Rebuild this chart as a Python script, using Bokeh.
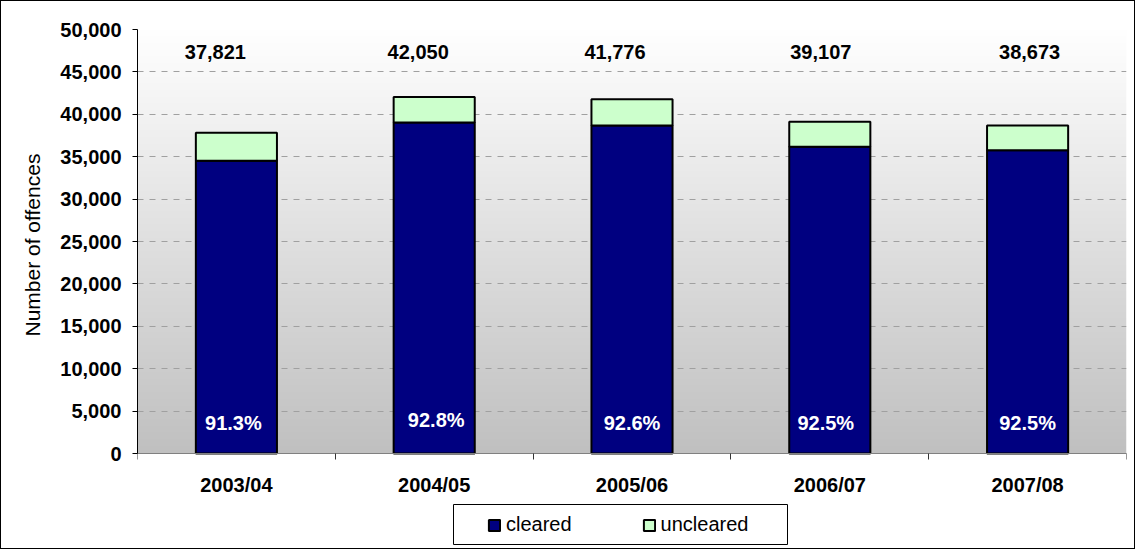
import numpy as np
from bokeh.plotting import figure
from bokeh.models import (ColumnDataSource, Range1d, FixedTicker, NumeralTickFormatter,
                          Legend, LegendItem, BoxAnnotation, Title)
from bokeh.core.properties import value
from bokeh.embed import file_html
from bokeh.resources import INLINE

# ---- data ----
categories = ["2003/04", "2004/05", "2005/06", "2006/07", "2007/08"]
cleared = [34531, 39022, 38685, 36174, 35773]
uncleared = [3290, 3028, 3091, 2933, 2900]
y_ticks = [0, 5000, 10000, 15000, 20000, 25000, 30000, 35000, 40000, 45000, 50000]

# ---- label nudges (px), styling only ----
total_dx = [-21, -16, -17, -9, 2]
pct_dx = [-3, 2, 0, -4, 0]
pct_dy = [0, -3, 0, 0, 0]

FONT = "Liberation Sans"

# ---- layout (px) ----
FRAME_L, FRAME_T, FRAME_W = 136, 28, 989
AXIS_H = 424          # height of the 0..50,000 part of the frame
BELOW_H = 95          # space below the value 0 (axis labels + legend)
N = len(categories)
YMAX = y_ticks[-1]
YMIN = -YMAX * BELOW_H / AXIS_H

def px_x(px):   # horizontal pixel offset from frame left -> data x
    return px * N / FRAME_W

def px_y(px):   # pixels below the zero line -> data y
    return -px * YMAX / AXIS_H

x = [i + 0.5 for i in range(N)]
totals = [c + u for c, u in zip(cleared, uncleared)]
total_lbl = [f"{t:,}" for t in totals]
pct_lbl = [f"{100.0 * c / t:.1f}%" for c, t in zip(cleared, totals)]

src = ColumnDataSource(dict(x=x, cleared=cleared, uncleared=uncleared,
                            total_lbl=total_lbl, pct_lbl=pct_lbl,
                            total_dx=total_dx, pct_dx=pct_dx, pct_dy=pct_dy))

p = figure(frame_width=FRAME_W, frame_height=AXIS_H + BELOW_H,
           x_range=Range1d(0, N), y_range=Range1d(YMIN, YMAX),
           output_backend="svg", toolbar_location=None,
           min_border_left=FRAME_L, min_border_right=8, min_border_top=FRAME_T,
           min_border_bottom=0)
p.styles = {"border": "1px solid black"}
p.outline_line_color = None
p.background_fill_color = "white"
p.border_fill_color = "white"

# gradient plot-area background (white at top, grey at bottom)
H = AXIS_H
img = np.empty((H, 1), dtype=np.uint32)
view = img.view(dtype=np.uint8).reshape((H, 1, 4))
t = np.linspace(0.0, 1.0, H)
g = (192 + (255 - 192) * t).astype(np.uint8)
view[:, 0, 0] = g
view[:, 0, 1] = g
view[:, 0, 2] = g
view[:, 0, 3] = 255
p.image_rgba(image=[img], x=0, y=0, dw=N, dh=YMAX, level="image")

# stacked bars
rs = p.vbar_stack(["cleared", "uncleared"], x="x", width=0.41, source=src,
                  fill_color=["#000080", "#ccffcc"], line_color="black", line_width=2)

# labels
p.text(x="x", y=47400, text="total_lbl", source=src, x_offset="total_dx",
       text_align="center", text_baseline="middle", text_font=value(FONT),
       text_font_style="bold", text_font_size="20px", text_color="black")
p.text(x="x", y=3540, text="pct_lbl", source=src, x_offset="pct_dx", y_offset="pct_dy",
       text_align="center", text_baseline="middle", text_font=value(FONT),
       text_font_style="bold", text_font_size="20px", text_color="white")

# y axis
yax = p.yaxis[0]
yax.ticker = FixedTicker(ticks=y_ticks)
yax.formatter = NumeralTickFormatter(format="0,0")
yax.bounds = (0, YMAX)
yax.major_tick_out = 5
yax.major_tick_in = 0
yax.minor_tick_line_color = None
yax.axis_line_color = "black"
yax.major_tick_line_color = "black"
yax.major_label_text_color = "black"
yax.major_label_text_font = FONT
yax.major_label_text_font_style = "bold"
yax.major_label_text_font_size = "20px"
yax.major_label_standoff = 11

# y-axis title, placed beside the 0..50,000 part of the axis
p.add_layout(Title(text="Number of offences", align="left", vertical_align="bottom",
                   offset=BELOW_H + 117, standoff=28, text_font=FONT,
                   text_font_size="21px", text_font_style="normal",
                   text_color="black"), "left")

# x axis, drawn at the value 0 inside the extended frame
xax = p.xaxis[0]
xax.fixed_location = 0
xax.ticker = FixedTicker(ticks=x, minor_ticks=list(range(N + 1)))
xax.major_label_overrides = {xi: c for xi, c in zip(x, categories)}
xax.major_tick_line_color = None
xax.major_tick_out = 6
xax.major_tick_in = 0
xax.minor_tick_out = 6
xax.minor_tick_in = 0
xax.minor_tick_line_color = "#333333"
xax.axis_line_color = "#808080"
xax.major_label_text_color = "black"
xax.major_label_text_font = FONT
xax.major_label_text_font_style = "bold"
xax.major_label_text_font_size = "20px"
xax.major_label_standoff = 14

# grid
p.xgrid.grid_line_color = None
p.ygrid.ticker = FixedTicker(ticks=y_ticks)
p.ygrid.grid_line_color = "#a0a0a0"
p.ygrid.grid_line_dash = "6 6"
p.ygrid.grid_line_width = 1

# legend (inside the frame, below the axis) and its box
legend = Legend(items=[LegendItem(label="cleared", renderers=[rs[0]]),
                       LegendItem(label="uncleared", renderers=[rs[1]])],
                orientation="horizontal", location=(350, 12), padding=0, spacing=70,
                margin=0, glyph_width=14, glyph_height=14, label_standoff=5,
                label_text_font=FONT, label_text_font_size="20px",
                label_text_color="black",
                border_line_color=None, background_fill_alpha=0)
p.add_layout(legend, "center")
p.add_layout(BoxAnnotation(left=px_x(316), right=px_x(650),
                           top=px_y(51), bottom=px_y(91),
                           fill_alpha=0, line_color="black", line_alpha=1,
                           line_width=1, line_dash="solid"))

open("out.html", "w").write(file_html(p, INLINE))
